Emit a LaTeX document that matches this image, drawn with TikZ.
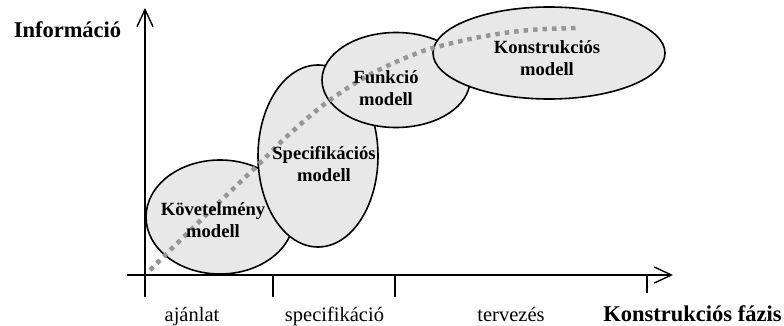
\documentclass[tikz,border=0pt]{standalone}
\usepackage{fontspec}
\setmainfont{Liberation Serif}
\usetikzlibrary{arrows.meta,shapes.geometric}
\definecolor{modelfill}{RGB}{232,232,232}
\definecolor{dotgray}{RGB}{150,150,150}
\tikzset{
  axisline/.style={line width=1.4pt,-{Straight Barb[length=17pt,width=16pt,line width=1.4pt]}},
  tickline/.style={line width=1.4pt},
  modelbox/.style={draw=black,line width=1.6pt,fill=modelfill,ellipse,inner sep=0pt},
  modeltext/.style={align=center,font=\fontsize{18.6}{21.5}\selectfont\bfseries,inner sep=0pt},
  phasetext/.style={anchor=base,inner sep=0pt,font=\fontsize{20.5}{24}\selectfont},
  axistext/.style={anchor=base,inner sep=0pt,font=\fontsize{22.5}{26}\selectfont\bfseries},
  dotcurve/.style={draw=dotgray,line width=4.5pt,dash pattern=on 4.5pt off 5pt}
}
\begin{document}
\begin{tikzpicture}[x=1pt,y=-1pt]
\useasboundingbox (0,0) rectangle (784,326);

% axes
\coordinate (origin) at (145,275);
\coordinate (xstart) at (127,275);
\coordinate (xend) at (673,275);
\coordinate (ybottom) at (145,297);
\coordinate (ytop) at (145,8);
\draw[axisline] (ybottom) -- (ytop);
\draw[axisline] (xstart) -- (xend);

% phase boundaries
\coordinate (t1a) at (273,275); \coordinate (t1b) at (273,297);
\coordinate (t2a) at (395,275); \coordinate (t2b) at (395,297);
\coordinate (t3a) at (647,275); \coordinate (t3b) at (647,293);
\draw[tickline] (t1a) -- (t1b);
\draw[tickline] (t2a) -- (t2b);
\draw[tickline] (t3a) -- (t3b);

% model ellipses
\node[modelbox,minimum width=148pt,minimum height=114pt] (kov) at (220,217) {};
\node[modelbox,minimum width=120pt,minimum height=182pt] (spec) at (318,156) {};
\node[modelbox,minimum width=148pt,minimum height=95pt] (funk) at (396,80) {};
\node[modelbox,minimum width=232pt,minimum height=92pt] (konst) at (549,53) {};

% information growth curve
\draw[dotcurve] plot[smooth,tension=0.6] coordinates {
  (150,270) (205,216) (260,163) (283,140) (317,110) (340,93) (362,79)
  (385,67) (410,56) (433,48) (480,37) (530,30) (580,28)};

% model labels
\node[modeltext] (kovtext) at (213,220) {Követelmény\\modell};
\node[modeltext] (spectext) at (324,164) {Specifikációs\\modell};
\node[modeltext] (funktext) at (386,88) {Funkció\\modell};
\node[modeltext] (konsttext) at (547,58) {Konstrukciós\\modell};

% axis labels
\node[axistext] (ylabel) at (67.5,37.5) {Információ};
\node[axistext] (xlabel) at (692.5,321.7) {Konstrukciós fázis};

% phase labels
\node[phasetext] (ph1) at (192,321.7) {ajánlat};
\node[phasetext] (ph2) at (334.5,321.7) {specifikáció};
\node[phasetext] (ph3) at (511,321.7) {tervezés};
\end{tikzpicture}
\end{document}
